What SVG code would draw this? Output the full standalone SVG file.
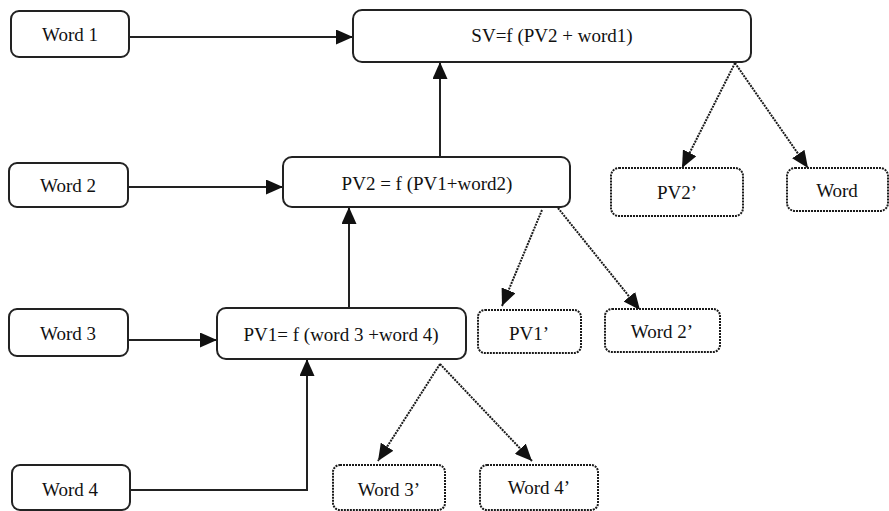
<svg xmlns="http://www.w3.org/2000/svg" width="889" height="511" viewBox="0 0 889 511">
  <style>
    .box { fill: #fff; stroke: #222; stroke-width: 2; }
    .dbox { fill: #fff; stroke: #1a1a1a; stroke-width: 2; stroke-dasharray: 2 1; }
    text { font-family: "Liberation Serif", "Times New Roman", Times, serif; font-size: 19px; fill: #111; text-anchor: middle; dominant-baseline: central; }
    .solid { fill: none; stroke: #222; stroke-width: 2; }
    .dot { fill: none; stroke: #1a1a1a; stroke-width: 2; stroke-dasharray: 2 1; }
  </style>
  <defs>
    <marker id="headS" viewBox="0 0 10 10" refX="10" refY="5" markerWidth="17" markerHeight="15" markerUnits="userSpaceOnUse" orient="auto" preserveAspectRatio="none">
      <path d="M0,0 L10,5 L0,10 z" fill="#111"/>
    </marker>
  </defs>

  <!-- connectors -->
  <g id="connectors">
    <path class="solid" d="M129,37 H353" marker-end="url(#headS)"/>
    <path class="solid" d="M440,157 V62" marker-end="url(#headS)"/>
    <path class="solid" d="M128,187 H283" marker-end="url(#headS)"/>
    <path class="solid" d="M349,308 V207" marker-end="url(#headS)"/>
    <path class="solid" d="M128,340 H217" marker-end="url(#headS)"/>
    <path class="solid" d="M130,490 H307 V359" marker-end="url(#headS)"/>
    <path class="dot" d="M735,63 L682,168" marker-end="url(#headS)"/>
    <path class="dot" d="M735,63 L808,168" marker-end="url(#headS)"/>
    <path class="dot" d="M542,210 L502,306" marker-end="url(#headS)"/>
    <path class="dot" d="M558,208 L640,310" marker-end="url(#headS)"/>
    <path class="dot" d="M440,364 L378,461" marker-end="url(#headS)"/>
    <path class="dot" d="M440,364 L532,461" marker-end="url(#headS)"/>
  </g>

  <g id="word1"><rect class="box" x="11" y="11" width="118" height="46" rx="8"/><text x="70" y="34">Word 1</text></g>
  <g id="sv"><rect class="box" x="353" y="10" width="398" height="52" rx="9"/><text x="552" y="35">SV=f (PV2 + word1)</text></g>
  <g id="word2"><rect class="box" x="9" y="163" width="119" height="44" rx="8"/><text x="68" y="185">Word 2</text></g>
  <g id="pv2"><rect class="box" x="283" y="157" width="287" height="50" rx="9"/><text x="427" y="183">PV2 = f (PV1+word2)</text></g>
  <g id="pv2p"><rect class="dbox" x="611" y="168" width="132" height="48" rx="8"/><text x="677" y="192">PV2’</text></g>
  <g id="word"><rect class="dbox" x="787" y="168" width="101" height="43" rx="8"/><text x="837" y="190">Word</text></g>
  <g id="word3"><rect class="box" x="9" y="309" width="119" height="47" rx="8"/><text x="68" y="333">Word 3</text></g>
  <g id="pv1"><rect class="box" x="217" y="308" width="249" height="51" rx="9"/><text x="341" y="334">PV1= f (word 3 +word 4)</text></g>
  <g id="pv1p"><rect class="dbox" x="478" y="310" width="103" height="43" rx="7"/><text x="529" y="333">PV1’</text></g>
  <g id="word2p"><rect class="dbox" x="605" y="309" width="115" height="43" rx="7"/><text x="662" y="331">Word 2’</text></g>
  <g id="word4"><rect class="box" x="12" y="465" width="118" height="45" rx="8"/><text x="70" y="489">Word 4</text></g>
  <g id="word3p"><rect class="dbox" x="333" y="465" width="112" height="45" rx="7"/><text x="389" y="489">Word 3’</text></g>
  <g id="word4p"><rect class="dbox" x="480" y="465" width="118" height="45" rx="7"/><text x="539" y="487">Word 4’</text></g>
</svg>
